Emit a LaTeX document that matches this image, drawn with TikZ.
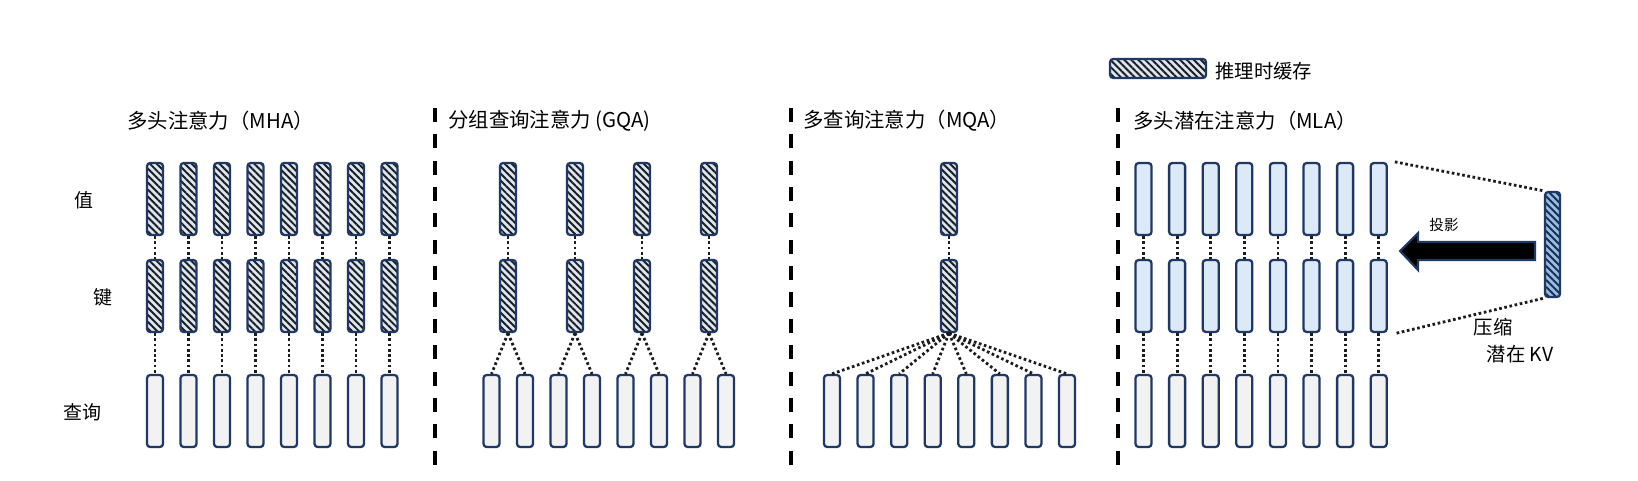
\documentclass[tikz,border=0pt]{standalone}
\usepackage{fontspec}
\newfontfamily\cjk{Noto Sans CJK SC}
\usetikzlibrary{
    patterns.meta,
    positioning
}
\definecolor{ink}{RGB}{28,28,30}
\definecolor{navy}{RGB}{31,56,100}
\definecolor{hatchbg}{RGB}{218,230,242}
\definecolor{queryfill}{RGB}{242,242,242}
\definecolor{mlafill}{RGB}{220,233,246}
\definecolor{latentbg}{RGB}{150,190,228}
\tikzset{
    line join=round,
    head/.style={
        rectangle,
        rounded corners=1.8pt,
        draw=navy,
        line width=1.3pt,
        minimum width=0.32cm,
        minimum height=1.44cm,
        inner sep=0pt
    },
    cached/.style={
        head,
        preaction={fill=hatchbg},
        pattern={Lines[angle=-45, distance=2.8pt, line width=1.1pt]},
        pattern color=ink
    },
    querybox/.style={head, fill=queryfill},
    mlabox/.style={head, fill=mlafill},
    latentbox/.style={
        head,
        minimum width=0.3cm,
        minimum height=2.1cm,
        preaction={fill=latentbg},
        pattern={Lines[angle=-45, distance=2.8pt, line width=1.1pt]},
        pattern color=navy!80!black
    },
    dotlink/.style={
        draw=ink,
        line width=1.6pt,
        dash pattern=on 1.5pt off 1.5pt
    },
    sepline/.style={
        draw=black,
        line width=2pt,
        dash pattern=on 8pt off 7pt
    },
    paneltitle/.style={
        font=\fontsize{11.6}{13}\cjk,
        text=black,
        anchor=west,
        inner sep=0pt
    },
    rowlabel/.style={
        font=\fontsize{10.8}{12}\cjk,
        text=black,
        inner sep=0pt
    },
    annot/.style={
        font=\fontsize{11}{13}\cjk,
        text=black,
        inner sep=0pt
    }
}

\begin{document}
\begin{tikzpicture}[x=0.02cm, y=-0.02cm]
\useasboundingbox[fill=white] (0,0) rectangle (1638,480);

% legend
\node[cached, minimum width=1.92cm, minimum height=0.38cm] (legbox) at (1158,68.5) {};
\node[annot, anchor=west] (legtext) at (1215,71) {推理时缓存};

% panel titles
\node[paneltitle] (tmha) at (127,121) {多头注意力（MHA）};
\node[paneltitle] (tgqa) at (448,121) {分组查询注意力 (GQA)};
\node[paneltitle] (tmqa) at (803,121) {多查询注意力（MQA）};
\node[paneltitle] (tmla) at (1133,121) {多头潜在注意力（MLA）};

% row labels
\node[rowlabel] (lval) at (84,200) {值};
\node[rowlabel] (lkey) at (103,297) {键};
\node[rowlabel] (lqry) at (82,412) {查询};

% separators
\foreach \x in {435, 791, 1118} {
    \draw[sepline] (\x,108) -- (\x,467);
}

% MHA
\foreach \i in {1,...,8} {
    \node[cached] (mv\i) at ({155+33.5*(\i-1)},199) {};
    \node[cached] (mk\i) at ({155+33.5*(\i-1)},296) {};
    \node[querybox] (mq\i) at ({155+33.5*(\i-1)},411) {};
    \draw[dotlink] (mv\i.south) -- (mk\i.north);
    \draw[dotlink] (mk\i.south) -- (mq\i.north);
}

% GQA
\foreach \j in {1,...,4} {
    \node[cached] (gv\j) at ({508+67*(\j-1)},199) {};
    \node[cached] (gk\j) at ({508+67*(\j-1)},296) {};
    \draw[dotlink] (gv\j.south) -- (gk\j.north);
}
\foreach \i in {1,...,8} {
    \pgfmathtruncatemacro\j{(\i+1)/2}
    \node[querybox] (gq\i) at ({491.5+33.5*(\i-1)},411) {};
    \draw[dotlink] (gk\j.south) -- (gq\i.north);
}

% MQA
\node[cached] (qv) at (949,199) {};
\node[cached] (qk) at (949,296) {};
\draw[dotlink] (qv.south) -- (qk.north);
\foreach \i in {1,...,8} {
    \node[querybox] (qq\i) at ({832+33.57*(\i-1)},411) {};
    \draw[dotlink] (qk.south) -- (qq\i.north);
}

% MLA
\foreach \i in {1,...,8} {
    \node[mlabox] (lv\i) at ({1143.5+33.6*(\i-1)},199) {};
    \node[mlabox] (lk\i) at ({1143.5+33.6*(\i-1)},296) {};
    \node[querybox] (lq\i) at ({1143.5+33.6*(\i-1)},411) {};
    \draw[dotlink] (lv\i.south) -- (lk\i.north);
    \draw[dotlink] (lk\i.south) -- (lq\i.north);
}
\node[latentbox] (latent) at (1552.5,244.5) {};
\draw[dotlink] ([xshift=4pt]lv8.north east) -- (latent.north west);
\draw[dotlink] ([xshift=5pt]lk8.south east) -- (latent.south west);

% projection arrow
\draw[navy, line width=1.2pt, fill=black]
    (1400,251) -- (1418,233) -- (1418,242) -- (1535,242)
    -- (1535,260) -- (1418,260) -- (1418,270) -- cycle;
\node[annot, font=\fontsize{8.3}{10}\cjk] (proj) at (1444,225) {投影};
\node[annot] (comp) at (1493,327) {压缩};
\node[annot] (lkv) at (1520,354) {潜在 KV};

\end{tikzpicture}
\end{document}
